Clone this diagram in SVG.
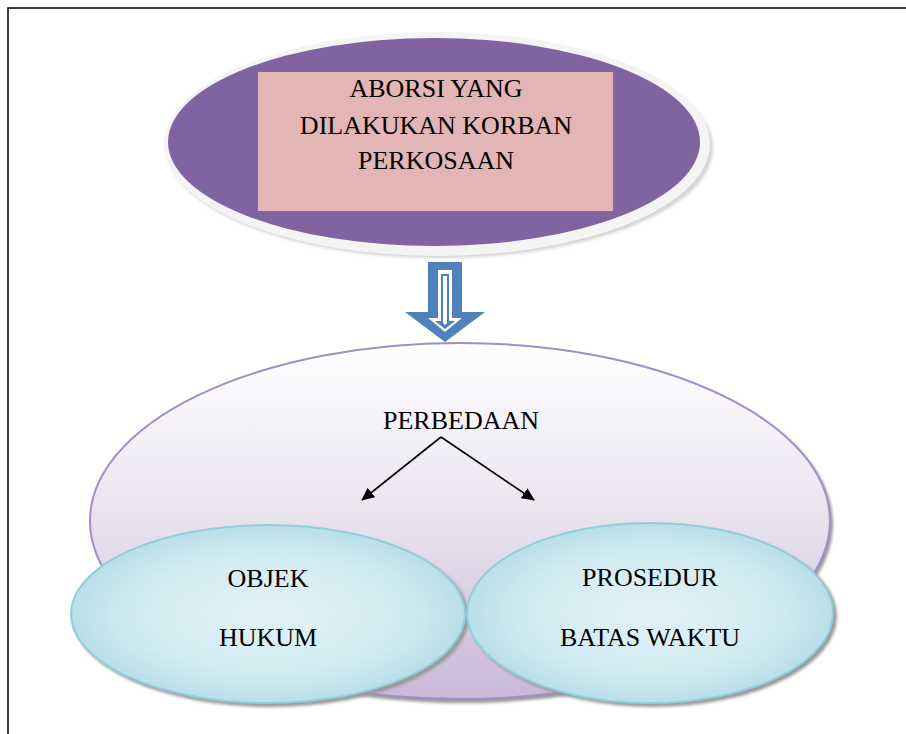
<svg xmlns="http://www.w3.org/2000/svg" width="906" height="734" viewBox="0 0 906 734">
<defs>
<style>
.t{font-family:"Liberation Serif","Times New Roman",serif;font-size:26px;fill:#000;text-anchor:middle}
.conn{stroke:#000;stroke-width:1.6;fill:none}
</style>
<linearGradient id="gBig" x1="0" y1="0" x2="0" y2="1">
<stop offset="0" stop-color="#ffffff"/>
<stop offset="0.5" stop-color="#e8e2ef"/>
<stop offset="1" stop-color="#c9b8d9"/>
</linearGradient>
<radialGradient id="gCyan" cx="0.5" cy="0.5" r="0.6">
<stop offset="0" stop-color="#e2f2f7"/>
<stop offset="0.55" stop-color="#d2ebf2"/>
<stop offset="1" stop-color="#a9d8e4"/>
</radialGradient>
<filter id="sh" x="-10%" y="-10%" width="120%" height="130%">
<feGaussianBlur stdDeviation="1.5"/>
</filter>
<marker id="ah" markerWidth="13" markerHeight="12" refX="12" refY="6" orient="auto" markerUnits="userSpaceOnUse" viewBox="0 0 13 12">
<path d="M0,0 L13,6 L0,12 z" fill="#000"/>
</marker>
</defs>
<rect width="906" height="734" fill="#fff"/>
<path d="M8,734 L8,8 L906,8" fill="none" stroke="#000" stroke-width="1.5"/>
<g id="node-top">
<ellipse cx="440" cy="148" rx="273" ry="110" fill="#d4d4d4" filter="url(#sh)"/>
<ellipse cx="437" cy="144" rx="273" ry="112" fill="#f4f4f4"/>
<ellipse cx="434" cy="142" rx="266" ry="104" fill="#8064a2"/>
<rect x="258" y="72" width="355" height="139" fill="#e4b5b5"/>
<text class="t" x="436" y="97">ABORSI YANG</text>
<text class="t" x="436" y="134">DILAKUKAN KORBAN</text>
<text class="t" x="436" y="169">PERKOSAAN</text>
</g>
<g id="node-arrow">
<path d="M428,262 L462,262 L462,312 L485,312 L445,342 L405,312 L428,312 Z" fill="#4f81bd"/>
<path d="M438,270 L452,270 L452,318 L462,318 L445,332 L428,318 L438,318 Z" fill="#fff"/>
<path d="M441,274 L449,274 L449,321 L455,321 L445,329 L435,321 L441,321 Z" fill="#4f81bd"/>
<path d="M443,276 L447,276 L447,323 L445,325 L443,323 Z" fill="#fff"/>
</g>
<g id="node-perbedaan">
<ellipse cx="463" cy="524" rx="370" ry="179" fill="#999" filter="url(#sh)"/>
<ellipse cx="460" cy="521" rx="370" ry="178" fill="url(#gBig)" stroke="#a28ec4" stroke-width="2"/>
<text class="t" x="461" y="429">PERBEDAAN</text>
</g>
<g id="connectors">
<line class="conn" x1="441" y1="437" x2="362" y2="500" marker-end="url(#ah)"/>
<line class="conn" x1="441" y1="437" x2="534" y2="500" marker-end="url(#ah)"/>
</g>
<g id="node-objek">
<ellipse cx="271" cy="617" rx="198" ry="90" fill="#999" filter="url(#sh)"/>
<ellipse cx="268" cy="614" rx="197" ry="89" fill="url(#gCyan)" stroke="#92cddc" stroke-width="2"/>
<text class="t" x="268" y="587">OBJEK</text>
<text class="t" x="268" y="646">HUKUM</text>
</g>
<g id="node-prosedur">
<ellipse cx="653" cy="616" rx="184" ry="91" fill="#999" filter="url(#sh)"/>
<ellipse cx="650" cy="613" rx="183" ry="90" fill="url(#gCyan)" stroke="#92cddc" stroke-width="2"/>
<text class="t" x="650" y="586">PROSEDUR</text>
<text class="t" x="650" y="646">BATAS WAKTU</text>
</g>
</svg>
